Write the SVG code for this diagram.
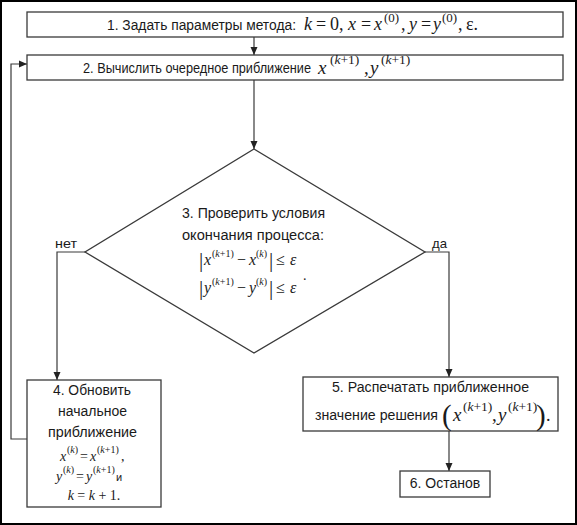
<svg xmlns="http://www.w3.org/2000/svg" width="577" height="525" viewBox="0 0 577 525">
<defs>
<marker id="ah" markerUnits="userSpaceOnUse" markerWidth="8" markerHeight="8" refX="8" refY="4" orient="auto">
<path d="M0,0.5 L8,4 L0,7.5 z" fill="#222"/>
</marker>
<style>
.box{fill:#fff;stroke:#3a3a3a;stroke-width:1.3}
.ln{fill:none;stroke:#3a3a3a;stroke-width:1.2}
.t{font-family:"Liberation Sans","DejaVu Sans",sans-serif;font-size:14px;fill:#1a1a1a}
.m{font-family:"Liberation Serif","DejaVu Serif",serif;font-size:17px;fill:#1a1a1a}
.i{font-style:italic}
.s{font-family:"Liberation Serif","DejaVu Serif",serif;font-size:12px;fill:#1a1a1a}
</style>
</defs>
<rect x="1" y="1" width="575" height="523" fill="#fff" stroke="#000" stroke-width="2"/>

<g id="connectors">
<path class="ln" d="M254,37 V55" marker-end="url(#ah)"/>
<path class="ln" d="M254,80 V149" marker-end="url(#ah)"/>
<path class="ln" d="M85,252 H57 V380" marker-end="url(#ah)"/>
<path class="ln" d="M425,252 H449 V377" marker-end="url(#ah)"/>
<path class="ln" d="M449,431 V471" marker-end="url(#ah)"/>
<path class="ln" d="M27,439 H11 V64 H27" marker-end="url(#ah)"/>
<text class="t" x="55" y="248" style="font-size:13px" textLength="22" lengthAdjust="spacingAndGlyphs">нет</text>
<text class="t" x="432" y="248" style="font-size:13px" textLength="15" lengthAdjust="spacingAndGlyphs">да</text>
</g>

<g id="node1">
<rect class="box" x="27" y="12" width="536" height="25"/>
<text class="t" x="107" y="30" textLength="189" lengthAdjust="spacingAndGlyphs">1. Задать параметры метода:</text>
<text class="m" y="30" style="font-size:18px"><tspan x="304" class="i">k</tspan><tspan x="316">=</tspan><tspan x="330">0,</tspan><tspan x="348" class="i">x</tspan><tspan x="361">=</tspan><tspan x="374" class="i">x</tspan><tspan x="401">,</tspan><tspan x="409" class="i">y</tspan><tspan x="421">=</tspan><tspan x="433" class="i">y</tspan><tspan x="458">,</tspan><tspan x="466">ε.</tspan></text>
<text class="s" x="384" y="22" style="font-size:13px">(0)</text>
<text class="s" x="442" y="22" style="font-size:13px">(0)</text>
</g>

<g id="node2">
<rect class="box" x="27" y="55" width="536" height="25"/>
<text class="t" x="83" y="73" textLength="228" lengthAdjust="spacingAndGlyphs">2. Вычислить очередное приближение</text>
<text class="m" y="74" style="font-size:19px"><tspan x="318" class="i">x</tspan><tspan x="364">,</tspan><tspan x="370" class="i">y</tspan></text>
<text class="s" x="330" y="64" style="font-size:13.5px">(<tspan class="i">k</tspan>+1)</text>
<text class="s" x="381" y="64" style="font-size:13.5px">(<tspan class="i">k</tspan>+1)</text>
</g>

<g id="node3">
<path class="box" d="M254,149 L425,252 L254,353 L85,252 Z"/>
<text class="t" x="182" y="218" textLength="143" lengthAdjust="spacingAndGlyphs">3. Проверить условия</text>
<text class="t" x="182" y="240" textLength="142" lengthAdjust="spacingAndGlyphs">окончания процесса:</text>
<text class="m" y="267" style="font-size:21px"><tspan x="199">|</tspan><tspan x="269">|</tspan></text>
<text class="m" y="265" style="font-size:16px"><tspan x="204" class="i">x</tspan><tspan x="237">−</tspan><tspan x="249" class="i">x</tspan><tspan x="276">≤</tspan><tspan x="290" class="i">ε</tspan></text>
<text class="s" x="212" y="257" style="font-size:10px">(<tspan class="i">k</tspan>+1)</text>
<text class="s" x="256" y="257" style="font-size:10px">(<tspan class="i">k</tspan>)</text>
<text class="m" y="295" style="font-size:21px"><tspan x="199">|</tspan><tspan x="269">|</tspan></text>
<text class="m" y="293" style="font-size:16px"><tspan x="204" class="i">y</tspan><tspan x="237">−</tspan><tspan x="249" class="i">y</tspan><tspan x="276">≤</tspan><tspan x="290" class="i">ε</tspan></text>
<text class="s" x="212" y="285" style="font-size:10px">(<tspan class="i">k</tspan>+1)</text>
<text class="s" x="256" y="285" style="font-size:10px">(<tspan class="i">k</tspan>)</text>
<text class="m" x="303" y="280" style="font-size:14px">.</text>
</g>

<g id="node4">
<rect class="box" x="27" y="380" width="134" height="127"/>
<text class="t" x="53" y="395" textLength="78" lengthAdjust="spacingAndGlyphs">4. Обновить</text>
<text class="t" x="58" y="416" textLength="69" lengthAdjust="spacingAndGlyphs">начальное</text>
<text class="t" x="48" y="437" textLength="89" lengthAdjust="spacingAndGlyphs">приближение</text>
<text class="m" y="461" style="font-size:14px"><tspan x="60" class="i">x</tspan><tspan x="80">=</tspan><tspan x="90" class="i">x</tspan><tspan x="121">,</tspan></text>
<text class="s" x="67" y="453" style="font-size:10px">(<tspan class="i">k</tspan>)</text>
<text class="s" x="97" y="453" style="font-size:10px">(<tspan class="i">k</tspan>+1)</text>
<text class="m" y="481" style="font-size:14px"><tspan x="56" class="i">y</tspan><tspan x="76">=</tspan><tspan x="86" class="i">y</tspan></text>
<text class="s" x="63" y="473" style="font-size:10px">(<tspan class="i">k</tspan>)</text>
<text class="s" x="93" y="473" style="font-size:10px">(<tspan class="i">k</tspan>+1)</text>
<text class="t" x="116" y="481" style="font-size:11px">и</text>
<text class="m" x="94" y="500" style="font-size:14px" text-anchor="middle"><tspan class="i">k</tspan> = <tspan class="i">k</tspan> + 1.</text>
</g>

<g id="node5">
<rect class="box" x="303" y="377" width="255" height="54"/>
<text class="t" x="332" y="392" textLength="197" lengthAdjust="spacingAndGlyphs">5. Распечатать приближенное</text>
<text class="t" x="315" y="420" textLength="123" lengthAdjust="spacingAndGlyphs">значение решения</text>
<text class="m" x="442" y="425" style="font-size:29px">(</text>
<text class="m" y="421" style="font-size:19px"><tspan x="453" class="i">x</tspan><tspan x="492">,</tspan><tspan x="498" class="i">y</tspan></text>
<text class="s" x="463" y="411" style="font-size:13.5px">(<tspan class="i">k</tspan>+1)</text>
<text class="s" x="508" y="411" style="font-size:13.5px">(<tspan class="i">k</tspan>+1)</text>
<text class="m" x="536" y="425" style="font-size:29px">)</text>
<text class="m" x="546" y="421" style="font-size:18px">.</text>
</g>

<g id="node6">
<rect class="box" x="400" y="471" width="90" height="26"/>
<text class="t" x="445" y="488" text-anchor="middle">6. Останов</text>
</g>
</svg>
